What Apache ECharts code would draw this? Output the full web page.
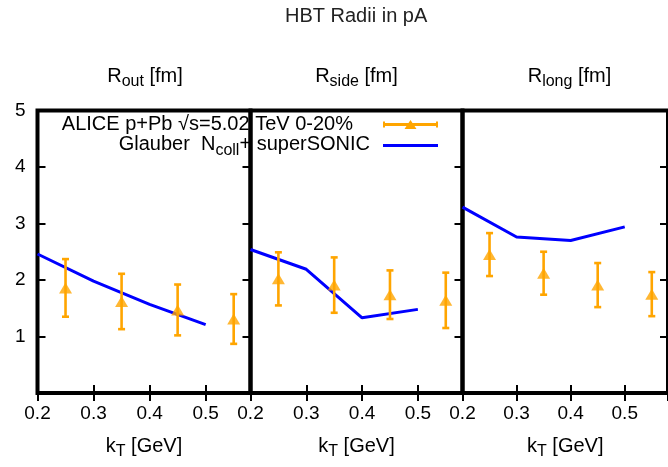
<!DOCTYPE html>
<html>
<head>
<meta charset="utf-8">
<script src="https://cdn.jsdelivr.net/npm/echarts@6/dist/echarts.min.js"></script>
<style>html,body{margin:0;padding:0;background:#fff}#c{width:668px;height:467px}</style>
</head>
<body>
<div id="c"></div>
<script>
// ---- data ----
const chartTitle = 'HBT Radii in pA';
const panelNames = ['out', 'side', 'long'];
const kT_exp = [0.25, 0.35, 0.45, 0.55];
const kT_model = [0.2, 0.3, 0.4, 0.5];
const Rout_exp = [1.86, 1.62, 1.47, 1.31];
const Rout_err = [0.51, 0.49, 0.45, 0.44];
const Rside_exp = [2.02, 1.91, 1.74, 1.64];
const Rside_err = [0.47, 0.49, 0.43, 0.49];
const Rlong_exp = [2.45, 2.12, 1.91, 1.75];
const Rlong_err = [0.38, 0.38, 0.39, 0.39];
const Rout_model = [2.46, 1.98, 1.57, 1.21];
const Rside_model = [2.54, 2.19, 1.33, 1.48];
const Rlong_model = [3.29, 2.76, 2.70, 2.94];
const xTicks = [0.2, 0.3, 0.4, 0.5];
const yTicks = [1, 2, 3, 4, 5];
const expName = 'ALICE p+Pb \u221As=5.02 TeV 0-20%';
const modelName = 'Glauber Ncoll+ superSONIC';

// ---- styling / layout ----
const FONT = "'Liberation Sans', Arial, sans-serif";
const ORANGE = '#ffa500';
const BLUE = '#0000ff';
const panelLeft = [37.5, 250.5, 462.5];
const panelWidth = [213, 212, 213];
const panelTitleX = [145, 356.5, 569.5];
const gridTop = 110.5, gridHeight = 282.5;

const expSets = [[Rout_exp, Rout_err], [Rside_exp, Rside_err], [Rlong_exp, Rlong_err]];
const modelSets = [Rout_model, Rside_model, Rlong_model];

const subRich = {
  a: { fontSize: 20, lineHeight: 22, fontFamily: FONT, color: '#000', verticalAlign: 'top' },
  s: { fontSize: 16, lineHeight: 16, fontFamily: FONT, color: '#000', verticalAlign: 'top', padding: [8, 0, 0, 0] }
};

const grids = [], xAxes = [], yAxes = [], series = [], graphics = [];
const tickStyle = { inside: true, length: 8, lineStyle: { color: '#000', width: 2 } };

for (let i = 0; i < 3; i++) {
  grids.push({ left: panelLeft[i], top: gridTop, width: panelWidth[i], height: gridHeight,
    show: true, borderWidth: 4, borderColor: '#000', backgroundColor: 'transparent' });
  xAxes.push({
    type: 'value', gridIndex: i, position: 'bottom', min: xTicks[0], max: 0.58, interval: 0.1,
    axisLine: { show: false }, splitLine: { show: false }, axisTick: tickStyle,
    axisLabel: { fontSize: 19, fontFamily: FONT, color: '#000', margin: 11, showMaxLabel: false,
      formatter: v => v.toFixed(1) },
    name: '{a|k}{s|T}{a| [GeV]}', nameLocation: 'middle', nameGap: 43,
    nameTextStyle: { rich: subRich }
  });
  xAxes.push({
    type: 'value', gridIndex: i, position: 'top', min: xTicks[0], max: 0.58, interval: 0.1,
    axisLine: { show: false }, splitLine: { show: false }, axisTick: tickStyle,
    axisLabel: { show: false }
  });
  yAxes.push({
    type: 'value', gridIndex: i, position: 'left', min: 0, max: yTicks[yTicks.length - 1], interval: 1,
    axisLine: { show: false }, splitLine: { show: false },
    axisTick: Object.assign({ show: i === 0 }, tickStyle),
    axisLabel: { show: i === 0, fontSize: 19, fontFamily: FONT, color: '#000', margin: 12, showMinLabel: false }
  });
  yAxes.push({
    type: 'value', gridIndex: i, position: 'right', min: 0, max: yTicks[yTicks.length - 1], interval: 1,
    axisLine: { show: false }, splitLine: { show: false }, axisTick: tickStyle,
    axisLabel: { show: false }
  });

  series.push({
    name: modelName, type: 'line', xAxisIndex: 2 * i, yAxisIndex: 2 * i,
    data: kT_model.map((k, j) => [k, modelSets[i][j]]),
    symbol: 'none', showSymbol: false, lineStyle: { color: BLUE, width: 3 }, itemStyle: { color: BLUE }, z: 3
  });
  series.push({
    name: expName, type: 'custom', xAxisIndex: 2 * i, yAxisIndex: 2 * i,
    dimensions: ['x', 'y', 'err'], encode: { x: 0, y: 1 },
    data: kT_exp.map((k, j) => [k, expSets[i][0][j], expSets[i][1][j]]),
    itemStyle: { color: ORANGE }, z: 4,
    renderItem: (params, api) => {
      const x = api.value(0), y = api.value(1), e = api.value(2);
      const t = api.coord([x, y + e]), b = api.coord([x, y - e]);
      const hw = 3.5, st = { stroke: ORANGE, lineWidth: 2.6, fill: null };
      return { type: 'group', children: [
        { type: 'line', shape: { x1: t[0], y1: t[1], x2: b[0], y2: b[1] }, style: st },
        { type: 'line', shape: { x1: t[0] - hw, y1: t[1], x2: t[0] + hw, y2: t[1] }, style: st },
        { type: 'line', shape: { x1: b[0] - hw, y1: b[1], x2: b[0] + hw, y2: b[1] }, style: st }
      ]};
    }
  });
  series.push({
    name: expName, type: 'scatter', xAxisIndex: 2 * i, yAxisIndex: 2 * i,
    data: kT_exp.map((k, j) => [k, expSets[i][0][j]]),
    symbol: 'triangle', symbolSize: [13, 11], itemStyle: { color: ORANGE }, z: 5
  });

  graphics.push({
    type: 'text', x: panelTitleX[i], y: 66,
    style: { text: '{a|R}{s|' + panelNames[i] + '}{a| [fm]}', rich: subRich, align: 'center', verticalAlign: 'top' }
  });
}

const option = {
  backgroundColor: '#fff',
  animation: false,
  title: { text: chartTitle, left: 285, top: 6, padding: 0,
    textStyle: { fontSize: 20, fontWeight: 'normal', fontFamily: FONT, color: '#222' } },
  grid: grids, xAxis: xAxes, yAxis: yAxes, series: series, graphic: graphics,
  legend: [
    {
      data: [{ name: expName, icon: 'path://M0,3h2v6h-2z M0,4.5h55v3h-55z M53,3h2v6h-2z M21.5,10.5L27.5,1.5L33.5,10.5z' }],
      right: 230, top: 114.5, padding: 0, align: 'right', orient: 'vertical',
      itemWidth: 55, itemHeight: 9, selectedMode: false, itemStyle: { borderWidth: 0 },
      formatter: () => '{a|' + expName + '}',
      textStyle: { rich: { a: { fontSize: 20, lineHeight: 22, fontFamily: FONT, color: '#000', padding: [0, 25, 0, 0] } } }
    },
    {
      data: [{ name: modelName, icon: 'path://M0,0h55v3h-55z' }],
      right: 230, top: 134.5, padding: 0, align: 'right', orient: 'vertical',
      itemWidth: 55, itemHeight: 3, selectedMode: false, itemStyle: { borderWidth: 0 },
      formatter: () => '{a|Glauber  N}{s|coll}{b|+ superSONIC}',
      textStyle: { rich: {
        a: subRich.a, s: subRich.s,
        b: { fontSize: 20, lineHeight: 22, fontFamily: FONT, color: '#000', verticalAlign: 'top', padding: [0, 8, 0, 0] }
      } }
    }
  ]
};

const chart = echarts.init(document.getElementById('c'), null, { renderer: 'canvas' });
chart.setOption(option);
</script>
</body>
</html>
